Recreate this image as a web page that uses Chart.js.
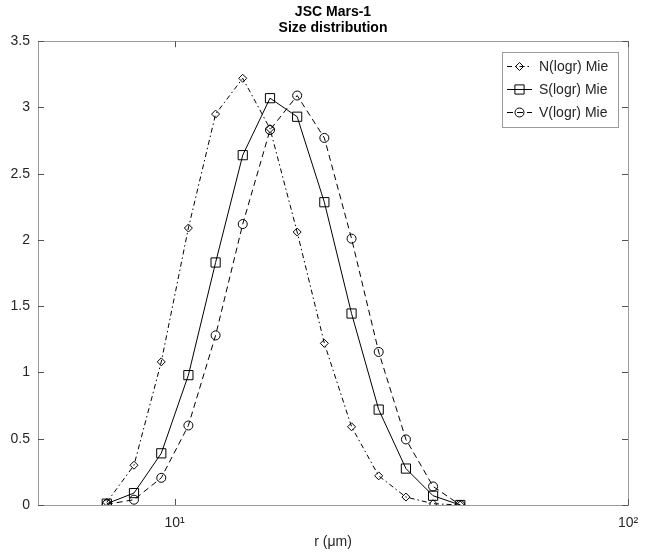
<!DOCTYPE html>
<html>
<head>
<meta charset="utf-8">
<script src="https://cdn.jsdelivr.net/npm/chart.js@4/dist/chart.umd.min.js"></script>
<style>
  html, body { margin: 0; padding: 0; background: #fff; }
  #wrap { width: 650px; height: 554px; }
</style>
</head>
<body>
<div id="wrap"><canvas id="c" width="650" height="554"></canvas></div>
<script>
// ---- data ----
const rValues = [7.09, 8.14, 9.35, 10.73, 12.32, 14.14, 16.24, 18.64, 21.40, 24.57, 28.20, 32.38, 37.17, 42.67];
const nLogr = [0.02, 0.30, 1.08, 2.09, 2.95, 3.22, 2.84, 2.06, 1.22, 0.59, 0.22, 0.06, 0.01, 0.0];
const sLogr = [0.01, 0.09, 0.39, 0.98, 1.83, 2.64, 3.07, 2.93, 2.285, 1.445, 0.72, 0.275, 0.07, 0.0];
const vLogr = [0.005, 0.04, 0.205, 0.60, 1.28, 2.12, 2.83, 3.09, 2.77, 2.01, 1.155, 0.495, 0.14, 0.0];
const seriesNames = ['N(logr) Mie', 'S(logr) Mie', 'V(logr) Mie'];
const xTickValues = [10, 100];
const xTickLabels = ['10\u00B9', '10\u00B2'];
const yTickValues = [0, 0.5, 1, 1.5, 2, 2.5, 3, 3.5];
const yTickLabels = ['0', '0.5', '1', '1.5', '2', '2.5', '3', '3.5'];
const titleLines = ['JSC Mars-1', 'Size distribution'];
const xAxisLabel = 'r (\u03BCm)';

const FONT = '"Liberation Sans", Arial, Helvetica, sans-serif';
const TEXT = '#262626';
const AXIS = '#9a9a9a';

function pts(ys) { return rValues.map((x, i) => ({ x: x, y: ys[i] })); }

const styles = [
  { dash: [5, 3, 1.5, 3], point: 'rectRot', radius: 4 },
  { dash: [], point: 'rect', radius: 6.5 },
  { dash: [6, 4], point: 'circle', radius: 4.5 }
];
const seriesData = [nLogr, sLogr, vLogr];

const datasets = seriesData.map((d, i) => ({
  label: seriesNames[i],
  data: pts(d),
  borderColor: '#000',
  borderWidth: 1,
  borderDash: styles[i].dash,
  backgroundColor: 'rgba(0,0,0,0)',
  pointStyle: styles[i].point,
  pointRadius: styles[i].radius,
  pointBorderWidth: 1,
  pointBorderColor: '#000',
  pointBackgroundColor: 'rgba(0,0,0,0)',
  tension: 0,
  fill: false
}));

const frame = {
  id: 'frame',
  afterDatasetsDraw(chart) {
    const { ctx, chartArea: a, scales } = chart;
    ctx.save();
    ctx.strokeStyle = AXIS;
    ctx.lineWidth = 1;
    ctx.setLineDash([]);
    ctx.strokeRect(Math.round(a.left) + 0.5, Math.round(a.top) + 0.5,
                   Math.round(a.right - a.left), Math.round(a.bottom - a.top));
    const tl = 6;
    ctx.strokeStyle = '#555';
    ctx.beginPath();
    xTickValues.forEach(v => {
      const x = Math.round(scales.x.getPixelForValue(v)) + 0.5;
      ctx.moveTo(x, a.bottom); ctx.lineTo(x, a.bottom - tl);
      ctx.moveTo(x, a.top); ctx.lineTo(x, a.top + tl);
    });
    yTickValues.forEach(v => {
      const y = Math.round(scales.y.getPixelForValue(v)) + 0.5;
      ctx.moveTo(a.left, y); ctx.lineTo(a.left + tl, y);
      ctx.moveTo(a.right, y); ctx.lineTo(a.right - tl, y);
    });
    ctx.stroke();

    // legend
    const bx = 502.5, by = 52.5, bw = 116, bh = 75;
    ctx.fillStyle = '#fff';
    ctx.fillRect(bx, by, bw, bh);
    ctx.strokeStyle = AXIS;
    ctx.strokeRect(bx, by, bw, bh);
    const rows = [66, 89, 112];
    ctx.font = '14px ' + FONT;
    ctx.textBaseline = 'middle';
    ctx.textAlign = 'left';
    rows.forEach((y, i) => {
      ctx.strokeStyle = '#000';
      ctx.lineWidth = 1;
      ctx.setLineDash(styles[i].dash);
      ctx.beginPath();
      ctx.moveTo(507, y + 0.5); ctx.lineTo(532, y + 0.5);
      ctx.stroke();
      ctx.setLineDash([]);
      ctx.fillStyle = 'rgba(0,0,0,0)';
      Chart.helpers.drawPoint(ctx, {
        pointStyle: styles[i].point, rotation: 0, borderWidth: 1,
        radius: styles[i].radius
      }, 519.5, y + 0.5);
      ctx.fillStyle = TEXT;
      ctx.fillText(seriesNames[i], 539, y + 1);
    });
    ctx.restore();
  }
};

new Chart(document.getElementById('c'), {
  type: 'line',
  data: { datasets },
  options: {
    responsive: false,
    animation: false,
    devicePixelRatio: 1,
    layout: { padding: { left: 0, right: 22, top: 0, bottom: 0 } },
    plugins: {
      legend: { display: false },
      tooltip: { enabled: false },
      title: {
        display: true,
        fullSize: false,
        text: titleLines,
        color: '#000',
        font: { family: FONT, size: 14, weight: 'bold', lineHeight: 1.15 },
        padding: { top: 4, bottom: 5 }
      }
    },
    scales: {
      x: {
        type: 'logarithmic',
        min: 5,
        max: 100,
        grid: { display: false, drawTicks: false },
        border: { display: false },
        afterBuildTicks(axis) {
          axis.ticks = xTickValues.map(v => ({ value: v, major: true }));
        },
        afterFit(axis) { axis.height = 49; },
        ticks: {
          autoSkip: false,
          maxRotation: 0,
          padding: 10,
          color: TEXT,
          font: { family: FONT, size: 14 },
          callback(value) {
            const i = xTickValues.indexOf(value);
            return i >= 0 ? xTickLabels[i] : '';
          }
        },
        title: {
          display: true,
          text: xAxisLabel,
          color: TEXT,
          font: { family: FONT, size: 14 },
          padding: { top: 0, bottom: 3 }
        }
      },
      y: {
        min: 0,
        max: 3.5,
        grid: { display: false, drawTicks: false },
        border: { display: false },
        afterFit(axis) { axis.width = 38; },
        afterBuildTicks(axis) {
          axis.ticks = yTickValues.map(v => ({ value: v }));
        },
        ticks: {
          padding: 8,
          color: TEXT,
          font: { family: FONT, size: 14 },
          callback(value) {
            const i = yTickValues.indexOf(value);
            return i >= 0 ? yTickLabels[i] : '';
          }
        }
      }
    }
  },
  plugins: [frame]
});
</script>
</body>
</html>
